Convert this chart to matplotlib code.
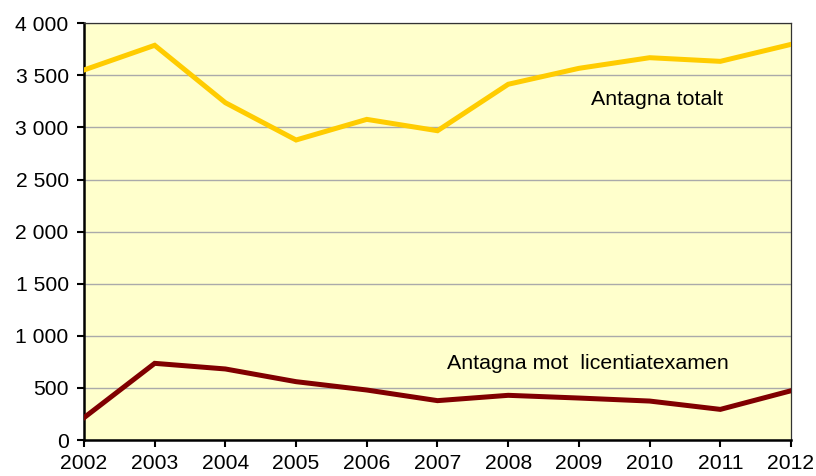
import numpy as np
import matplotlib
matplotlib.use("Agg")
import matplotlib.pyplot as plt
from matplotlib.ticker import FuncFormatter, MultipleLocator

# data
years = [2002, 2003, 2004, 2005, 2006, 2007, 2008, 2009, 2010, 2011, 2012]
antagna_totalt = [3552, 3789, 3238, 2880, 3078, 2969, 3415, 3568, 3670, 3635, 3798]
antagna_lic = [214, 736, 682, 560, 480, 378, 429, 403, 374, 294, 473]

plt.rcParams['font.family'] = ['Liberation Sans', 'DejaVu Sans']

fig = plt.figure(figsize=(8.16, 4.76), dpi=100)
ax = fig.add_axes([0.1029, 0.0756, 0.8665, 0.8754])
ax.set_facecolor('#FFFFCC')

ax.plot(years, antagna_totalt, color='#FFCC00', lw=3.6, solid_joinstyle='miter', zorder=3)
ax.plot(years, antagna_lic, color='#800000', lw=3.6, solid_joinstyle='miter', zorder=3)

ax.set_xlim(2002, 2012)
ax.set_ylim(0, 4000)
ax.yaxis.set_major_locator(MultipleLocator(500))
ax.set_xticks(years)
ax.yaxis.set_major_formatter(FuncFormatter(lambda v, p: '{:,.0f}'.format(v).replace(',', ' ')))
ax.grid(axis='y', color='#AAAAAA', lw=1.0, zorder=1)
ax.set_axisbelow(True)

ax.tick_params(axis='both', labelsize=15.2, direction='out', length=5, width=1.5, color='black')
ax.tick_params(axis='x', pad=5)
ax.tick_params(axis='y', pad=6)

for side in ['left', 'bottom']:
    ax.spines[side].set_linewidth(1.8)
    ax.spines[side].set_color('black')
for side in ['top', 'right']:
    ax.spines[side].set_linewidth(0.9)
    ax.spines[side].set_color('#333333')

ax.text(2010.1, 3264, 'Antagna totalt', fontsize=15.4, ha='center', va='center')
ax.text(2009.13, 739, 'Antagna mot  licentiatexamen', fontsize=15.4, ha='center', va='center')

fig.savefig('out.png', dpi=100)
